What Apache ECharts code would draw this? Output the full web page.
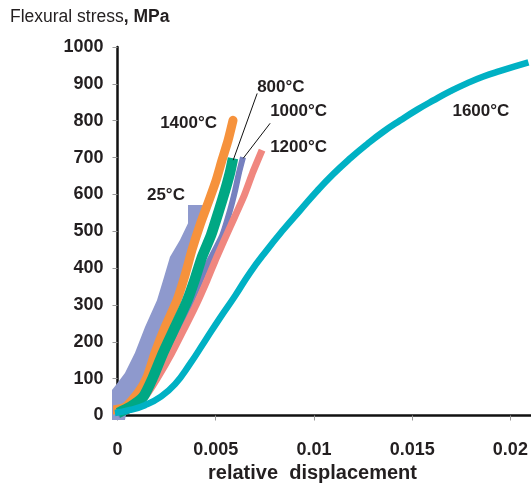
<!DOCTYPE html>
<html><head><meta charset="utf-8">
<script src="https://cdn.jsdelivr.net/npm/echarts@6/dist/echarts.min.js"></script>
<style>html,body{margin:0;padding:0;background:#fff}#c{width:531px;height:488px}</style>
</head><body><div id="c"></div>
<script>
// ---- data (relative displacement, flexural stress MPa) ----
const band25Left = [[-0.00028,-12],[-0.00028,69],[-0.00008,83],[0.00038,115],[0.00089,170],[0.0014,240],[0.00201,313],[0.00232,367],[0.00267,430],[0.00318,476],[0.00359,522],[0.00359,571]];
const band25Right = [[0.00435,571],[0.00405,503],[0.00369,430],[0.00303,313],[0.00242,240],[0.00191,170],[0.0015,104],[0.00104,61],[0.00053,28],[0.00038,-12]];
const curve1000 = [[0.00003,1],[0.00074,18],[0.0014,50],[0.00196,104],[0.00252,170],[0.00313,240],[0.00385,321],[0.00461,413],[0.00533,489],[0.00573,557],[0.00599,611],[0.00619,660],[0.00639,701]];
const curve1200 = [[0.00003,9],[0.00074,23],[0.0014,50],[0.00206,104],[0.00277,170],[0.00344,240],[0.004,300],[0.00456,367],[0.00505,430],[0.00577,516],[0.00645,597],[0.00689,660],[0.00736,720]];
const curve800 = [[0.00003,7],[0.00064,23],[0.0013,50],[0.00181,104],[0.00232,170],[0.00293,240],[0.00352,308],[0.00392,367],[0.0043,430],[0.00476,489],[0.00517,557],[0.00548,611],[0.00573,660],[0.00588,698]];
const curve1400 = [[-0.00023,15],[0.00038,23],[0.00104,61],[0.0015,104],[0.00191,170],[0.00242,240],[0.00303,313],[0.00344,381],[0.00379,449],[0.0042,517],[0.00466,584],[0.00502,638],[0.00532,693],[0.00563,747],[0.00588,801]];
const curve1600 = [[-0.00013,7],[0.00064,15],[0.0014,28],[0.00217,50],[0.00293,85],[0.00369,140],[0.00446,203],[0.00522,265],[0.00599,325],[0.00675,388],[0.00762,450],[0.00844,504],[0.0093,557],[0.01017,610],[0.01098,655],[0.01185,698],[0.01272,737],[0.01353,770],[0.0144,801],[0.01526,830],[0.01608,855],[0.01695,880],[0.01781,902],[0.01863,920],[0.01949,935],[0.02092,958]];
const tempLabels = ['25°C','800°C','1000°C','1200°C','1400°C','1600°C'];
const labelAt = [[0.0015,598],[0.00711,891],[0.00777,826],[0.00777,728],[0.00217,793],[0.01705,826]];
const leader800 = [[0.00711,874],[0.00589,693]];
const leader1000 = [[0.00777,793],[0.0064,698]];
const xMin = 0, xMax = 0.02105, xStep = 0.005;
const yMin = 0, yMax = 1000, yStep = 100;

const FONT = "'Liberation Sans', Arial, sans-serif";
const TXT = '#231f20';
const chart = echarts.init(document.getElementById('c'), null, {renderer:'canvas'});

function lineSeries(name, data, color, width, cap, z, smooth) {
  return {type:'line', name, data, showSymbol:false, smooth: smooth || 0.2, clip:false, silent:true,
    lineStyle:{color, width, cap: cap || 'butt', join:'round'}, z: z || 2};
}

const option = {
  animation:false,
  backgroundColor:'#fff',
  title:{left:5, top:3, text:'{a|Flexural stress}{b|, MPa}',
    textStyle:{fontWeight:'normal', rich:{a:{fontFamily:FONT, fontSize:17.5, fontWeight:'normal', color:TXT}, b:{fontFamily:FONT, fontSize:17.5, fontWeight:'bold', color:TXT}}}},
  grid:{left:117.5, right:0, top:47, bottom:72.5},
  xAxis:{type:'value', min:xMin, max:xMax, interval:xStep,
    axisLine:{lineStyle:{color:'#111', width:2.5}},
    axisTick:{show:true, length:5, lineStyle:{color:'#999', width:1}},
    splitLine:{show:false},
    axisLabel:{margin:26, fontFamily:FONT, fontSize:18, fontWeight:'bold', color:TXT, showMaxLabel:false,
      formatter:v => (Math.abs(v/xStep - Math.round(v/xStep)) < 1e-6 ? String(+v.toFixed(3)) : '')}},
  yAxis:{type:'value', min:yMin, max:yMax, interval:yStep,
    axisLine:{show:true, lineStyle:{color:'#111', width:2.5}},
    axisTick:{show:true, length:5, lineStyle:{color:'#999', width:1}},
    splitLine:{show:false},
    axisLabel:{margin:14, fontFamily:FONT, fontSize:18, fontWeight:'bold', color:TXT, formatter:v => String(v)}},
  series:[
    {type:'custom', name:'25°C', data:[[0,0]], clip:false, silent:true, z:1,
      renderItem:(params, api) => {
        const pts = band25Left.concat(band25Right).map(p => api.coord(p));
        return {type:'polygon', shape:{points:pts}, style:{fill:'#8e99cd'}};
      }},
    lineSeries('1000°C', curve1000, '#7680bf', 6, 'butt', 2),
    lineSeries('1200°C', curve1200, '#f0877f', 7, 'butt', 2),
    lineSeries('1400°C', curve1400, '#f6923c', 9, 'round', 3),
    lineSeries('800°C', curve800, '#00a884', 10.5, 'butt', 4),
    lineSeries('1600°C', curve1600, '#00b1c4', 6.5, 'butt', 5, 0.5),
    {type:'line', name:'leader800', data:leader800, showSymbol:false, clip:false, silent:true, z:6,
      lineStyle:{color:'#111', width:1}},
    {type:'line', name:'leader1000', data:leader1000, showSymbol:false, clip:false, silent:true, z:6,
      lineStyle:{color:'#111', width:1}}
  ]
};
chart.setOption(option);

const graphics = tempLabels.map((t, i) => {
  const p = chart.convertToPixel({gridIndex:0}, labelAt[i]);
  return {type:'text', x:p[0], y:p[1], z:10,
    style:{text:t, fontFamily:FONT, fontSize:17, fontWeight:'bold', fill:TXT, verticalAlign:'middle', align:'left'}};
});
graphics.push({type:'text', x:208, y:473, z:10,
  style:{text:'relative  displacement', fontFamily:FONT, fontSize:20, fontWeight:'bold', fill:TXT, verticalAlign:'middle', align:'left'}});
chart.setOption({graphic:graphics});
</script></body></html>
